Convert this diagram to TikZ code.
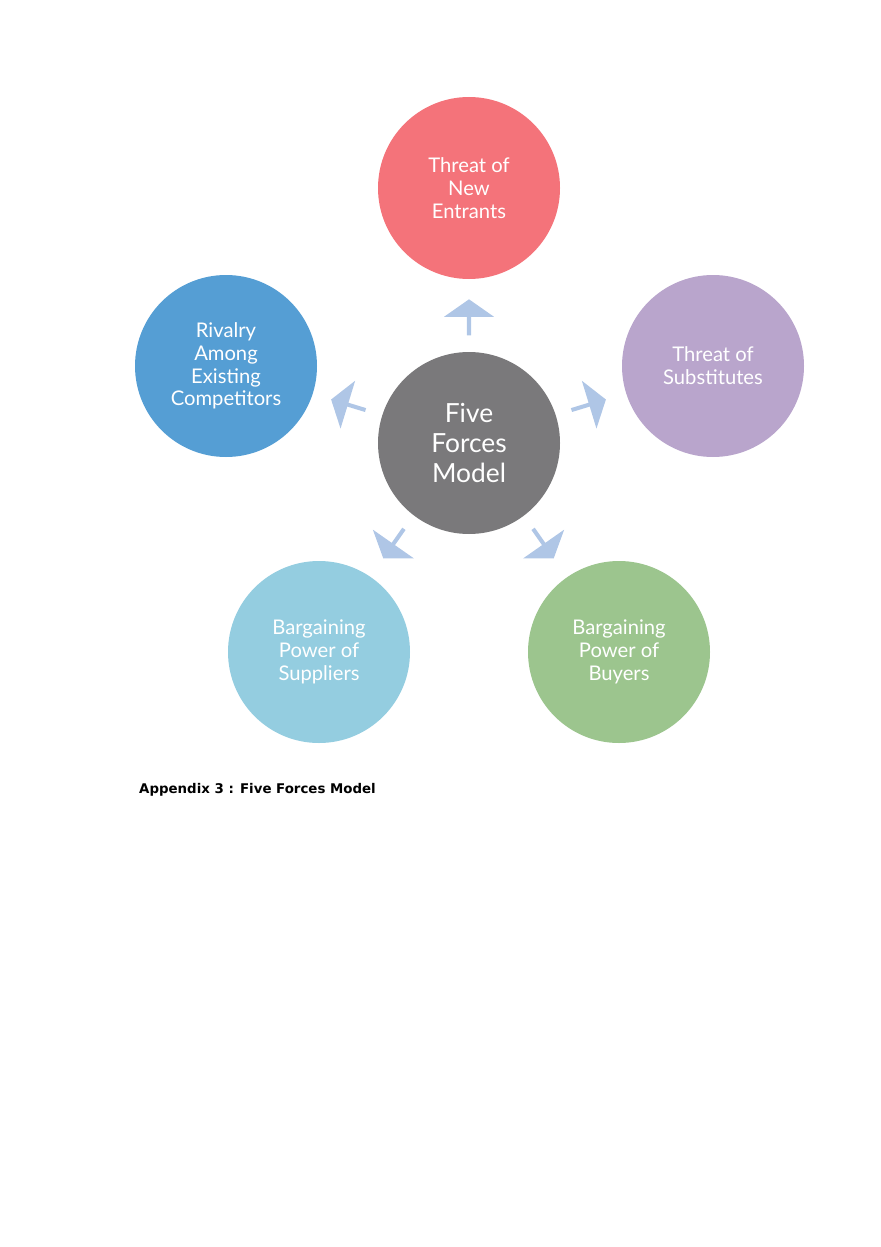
\documentclass[tikz,border=0pt]{standalone}
\usepackage{fontspec}
\setmainfont{Lato}
\newfontfamily\capfont{DejaVu Sans}
\usepackage{tikz}
\usetikzlibrary{shapes.arrows}

\definecolor{entrants}{HTML}{F4737A}
\definecolor{substit}{HTML}{B9A5CC}
\definecolor{rivalry}{HTML}{559ED4}
\definecolor{suppliers}{HTML}{94CDE0}
\definecolor{buyers}{HTML}{9CC58E}
\definecolor{core}{HTML}{7A797B}
\definecolor{arrowfill}{HTML}{AFC6E6}

\tikzset{
  force/.style={circle, minimum size=182*0.02cm, inner sep=0pt, text=white,
    align=center, font=\fontsize{11.5}{13}\selectfont},
  push/.style={single arrow, fill=arrowfill, minimum height=36*0.02cm,
    minimum width=50*0.02cm, single arrow head extend=0.08cm,
    single arrow tip angle=110, inner sep=0pt}
}

\begin{document}
\begin{tikzpicture}[x=0.02cm, y=-0.02cm]
\useasboundingbox (0,0) rectangle (880,1247);
\node[force, fill=core, font=\fontsize{15}{17}\selectfont] (model) at (469,443) {Five\\Forces\\Model};%
\node[force, fill=entrants] (entrants) at (469,188) {Threat of\\New\\Entrants};%
\node[force, fill=substit] (substit) at (713,366) {Threat of\\Substitutes};%
\node[force, fill=rivalry] (rivalry) at (226,366) {Rivalry\\Among\\Existing\\Competitors};%
\node[force, fill=suppliers] (suppliers) at (319,652) {Bargaining\\Power of\\Suppliers};%
\node[force, fill=buyers] (buyers) at (619,652) {Bargaining\\Power of\\Buyers};%
\node[push, rotate=90] (toentrants) at (469,318) {};%
\node[push, rotate=17] (tosubstit) at (588,405) {};%
\node[push, rotate=163] (torivalry) at (349,405) {};%
\node[push, rotate=235] (tosuppliers) at (394,543) {};%
\node[push, rotate=-55] (tobuyers) at (543,543) {};%
\node[anchor=west, font=\capfont\bfseries\fontsize{7.6}{9}\selectfont] (caption) at (133,790) {Appendix 3 : Five Forces Model};%
\end{tikzpicture}
\end{document}
